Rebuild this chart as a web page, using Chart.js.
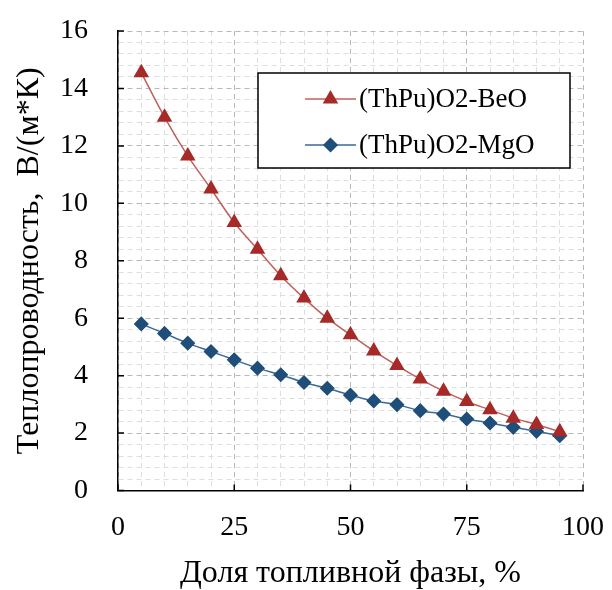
<!DOCTYPE html>
<html>
<head>
<meta charset="utf-8">
<script src="https://cdn.jsdelivr.net/npm/chart.js@4"></script>
<style>
  html, body { margin: 0; padding: 0; background: #fff; }
  #wrap { width: 612px; height: 590px; }
</style>
</head>
<body>
<div id="wrap"><canvas id="chartCanvas" width="612" height="590"></canvas></div>
<script>
// --- data ---
const fuelShare = [5, 10, 15, 20, 25, 30, 35, 40, 45, 50, 55, 60, 65, 70, 75, 80, 85, 90, 95];
const beoValues = [14.55, 13.0, 11.65, 10.5, 9.33, 8.4, 7.48, 6.7, 6.0, 5.42, 4.86, 4.35, 3.88, 3.46, 3.1, 2.81, 2.52, 2.3, 2.05];
const mgoValues = [5.8, 5.47, 5.13, 4.84, 4.55, 4.26, 4.03, 3.76, 3.56, 3.32, 3.12, 2.99, 2.78, 2.66, 2.49, 2.35, 2.2, 2.06, 1.91];

const xTickLabels = [0, 25, 50, 75, 100];
const yTickLabels = [0, 2, 4, 6, 8, 10, 12, 14, 16];
const xMinorStep = 5;
const yMinorStep = 0.4;

const seriesNames = ["(ThPu)O2-BeO", "(ThPu)O2-MgO"];

const serif = "'Liberation Serif', 'Times New Roman', serif";

// minor + major gridline positions
function gridValues(min, max, step) {
  const out = [];
  const n = Math.round((max - min) / step);
  for (let i = 0; i <= n; i++) out.push(+(min + i * step).toFixed(4));
  return out;
}
const isMajor = (v, list) => list.some(t => Math.abs(t - v) < 1e-6);

// inward tick marks on left / bottom axes
const tickMarks = {
  id: "tickMarks",
  afterDraw(chart) {
    const { ctx, scales: { x, y }, chartArea } = chart;
    ctx.save();
    ctx.strokeStyle = "#000";
    ctx.lineWidth = 1.5;
    ctx.beginPath();
    xTickLabels.forEach(v => {
      const px = x.getPixelForValue(v);
      ctx.moveTo(px, chartArea.bottom);
      ctx.lineTo(px, chartArea.bottom - 6);
    });
    yTickLabels.forEach(v => {
      const py = y.getPixelForValue(v);
      ctx.moveTo(chartArea.left, py);
      ctx.lineTo(chartArea.left + 6, py);
    });
    ctx.stroke();
    ctx.restore();
  }
};

// boxed legend like the original
const boxLegend = {
  id: "boxLegend",
  afterDraw(chart) {
    const ctx = chart.ctx;
    const box = { l: 258, t: 73, r: 570, b: 168 };
    ctx.save();
    ctx.fillStyle = "#fff";
    ctx.fillRect(box.l, box.t, box.r - box.l, box.b - box.t);
    ctx.strokeStyle = "#000";
    ctx.lineWidth = 1.5;
    ctx.strokeRect(box.l, box.t, box.r - box.l, box.b - box.t);
    const rows = [99, 145];
    chart.data.datasets.forEach((ds, i) => {
      const yy = rows[i];
      ctx.strokeStyle = ds.borderColor;
      ctx.lineWidth = 1.5;
      ctx.beginPath();
      ctx.moveTo(305, yy);
      ctx.lineTo(356, yy);
      ctx.stroke();
      ctx.fillStyle = ds.pointBackgroundColor;
      ctx.strokeStyle = ds.pointBorderColor;
      Chart.helpers.drawPoint(ctx, { pointStyle: ds.pointStyle, radius: ds.pointRadius, borderWidth: 1, rotation: 0 }, 330.5, yy);
      ctx.fillStyle = "#000";
      ctx.font = "27px " + serif;
      ctx.textBaseline = "middle";
      ctx.textAlign = "left";
      ctx.fillText(ds.label, 359, yy + 1);
    });
    ctx.restore();
  }
};

const config = {
  type: "line",
  data: {
    datasets: [
      {
        label: seriesNames[0],
        data: fuelShare.map((v, i) => ({ x: v, y: beoValues[i] })),
        borderColor: "#c0605c",
        borderWidth: 1.5,
        pointStyle: "triangle",
        pointRadius: 7.5,
        pointBackgroundColor: "#a52a28",
        pointBorderColor: "#a52a28",
        cubicInterpolationMode: "monotone"
      },
      {
        label: seriesNames[1],
        data: fuelShare.map((v, i) => ({ x: v, y: mgoValues[i] })),
        borderColor: "#3a6a9a",
        borderWidth: 1.5,
        pointStyle: "rectRot",
        pointRadius: 6.5,
        pointBackgroundColor: "#1f4e79",
        pointBorderColor: "#1f4e79",
        cubicInterpolationMode: "monotone"
      }
    ]
  },
  options: {
    responsive: false,
    animation: false,
    layout: { padding: { top: 31, right: 29, left: 0, bottom: 0 } },
    plugins: {
      legend: { display: false },
      tooltip: { enabled: false }
    },
    scales: {
      x: {
        type: "linear",
        min: 0,
        max: 100,
        afterFit: s => { s.height = 99.5; s.paddingLeft = 0; s.paddingRight = 0; },
        afterBuildTicks: s => { s.ticks = gridValues(0, 100, xMinorStep).map(v => ({ value: v })); },
        grid: {
          drawTicks: false,
          color: c => isMajor(c.tick.value, xTickLabels) ? "#b8b8b8" : "#dedede",
          lineWidth: 1
        },
        border: { display: true, color: "#000", width: 1.5, dash: [5, 4] },
        ticks: {
          padding: 20,
          color: "#000",
          font: { family: serif, size: 28 },
          maxRotation: 0,
          autoSkip: false,
          callback: v => isMajor(v, xTickLabels) ? String(v) : ""
        },
        title: {
          display: true,
          text: "Доля топливной фазы, %",
          color: "#000",
          font: { family: serif, size: 32, lineHeight: 1 },
          padding: { top: 0, bottom: 0 }
        }
      },
      y: {
        type: "linear",
        min: 0,
        max: 16,
        afterFit: s => { s.width = 118; s.paddingTop = 0; s.paddingBottom = 0; },
        afterBuildTicks: s => { s.ticks = gridValues(0, 16, yMinorStep).map(v => ({ value: v })); },
        grid: {
          drawTicks: false,
          color: c => isMajor(c.tick.value, yTickLabels) ? "#b8b8b8" : "#dedede",
          lineWidth: 1
        },
        border: { display: true, color: "#000", width: 1.5, dash: [5, 4] },
        ticks: {
          padding: 30,
          color: "#000",
          font: { family: serif, size: 28 },
          autoSkip: false,
          callback: v => isMajor(v, yTickLabels) ? String(v) : ""
        },
        title: {
          display: true,
          text: "Теплопроводность,  В/(м*К)",
          color: "#000",
          font: { family: serif, size: 32, lineHeight: 1 },
          padding: { top: 14, bottom: 0 }
        }
      }
    }
  },
  plugins: [tickMarks, boxLegend]
};

new Chart(document.getElementById("chartCanvas"), config);
</script>
</body>
</html>
